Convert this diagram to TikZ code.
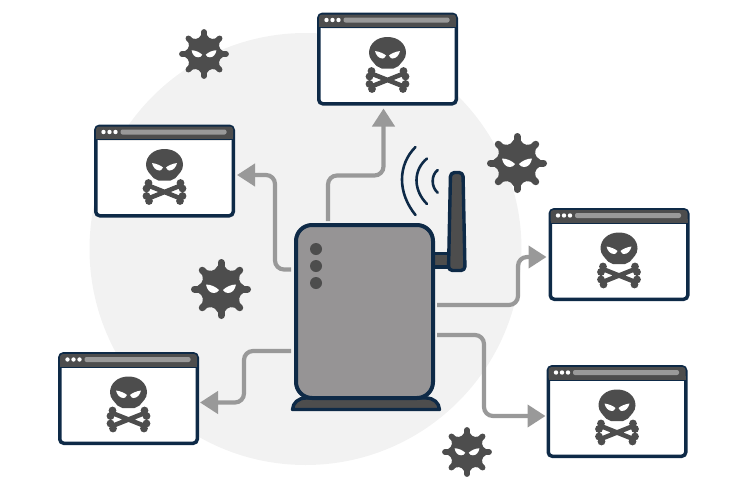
\documentclass[tikz,border=0pt]{standalone}
\usetikzlibrary{arrows.meta,calc}
\definecolor{navy}{HTML}{0E2A47}
\definecolor{dk}{HTML}{4D4D4D}
\definecolor{rg}{HTML}{969495}
\definecolor{lg}{HTML}{F2F2F2}
\definecolor{ag}{HTML}{999999}
\tikzset{
 winbox/.style={draw=navy,line width=3.5pt,fill=white,rounded corners=4pt,minimum width=137.5pt,minimum height=89.5pt,inner sep=0pt,outer sep=1.75pt},
 routerbox/.style={draw=navy,line width=4pt,fill=rg,rounded corners=16pt,minimum width=137pt,minimum height=173pt,inner sep=0pt,outer sep=2pt},
 conn/.style={draw=ag,line width=4.2pt,rounded corners=9pt,-{Triangle[length=18pt,width=22pt]}},
 bone/.style={draw=dk,line width=4.6pt,line cap=round},
 wave/.style={draw=navy,line width=2.6pt,line cap=round},
}
\newcommand{\badwin}[3]{% name, centre x, centre y
 \node[winbox] (#1) at (#2,#3) {};
 \begin{scope}[shift={(#2,#3)}]
  \fill[dk,rounded corners=3pt] (-68.5,-44.5) -- (68.5,-44.5) -- (68.5,-31) -- (-68.5,-31) -- cycle;
  \fill[dk] (-68.5,-36) rectangle (68.5,-31.5);
  \draw[navy,line width=1pt] (-68.5,-31.5) -- (68.5,-31.5);
  \fill[white] (-61,-39) circle (2.2pt) (-55,-39) circle (2.2pt) (-49,-39) circle (2.2pt);
  \fill[ag,rounded corners=2pt] (-44,-41.5) rectangle (62,-36.5);
  % skull
  \fill[dk] (0,-22) .. controls (11,-22) and (18.5,-15) .. (18.5,-6)
     .. controls (18.5,0) and (14,3) .. (11,7) -- (6,9.5) -- (-6,9.5) -- (-11,7)
     .. controls (-14,3) and (-18.5,0) .. (-18.5,-6)
     .. controls (-18.5,-15) and (-11,-22) .. (0,-22) -- cycle;
  \fill[white] (-12.5,-8) .. controls (-8,-7.5) and (-3,-5) .. (-1.5,-3.5) .. controls (-2.5,-1) and (-4,-0.5) .. (-5,-0.5)
     .. controls (-9,-0.5) and (-11.5,-4) .. (-12.5,-8) -- cycle;
  \fill[white] (12.5,-8) .. controls (8,-7.5) and (3,-5) .. (1.5,-3.5) .. controls (2.5,-1) and (4,-0.5) .. (5,-0.5)
     .. controls (9,-0.5) and (11.5,-4) .. (12.5,-8) -- cycle;
  % bones
  \draw[bone] (-15,15) -- (15,27) (15,15) -- (-15,27);
  \fill[dk] (-16,12) circle (3.9pt) (-18,17.5) circle (3.9pt) (16,12) circle (3.9pt) (18,17.5) circle (3.9pt)
            (-18,25) circle (3.9pt) (-15.5,30) circle (3.9pt) (18,25) circle (3.9pt) (15.5,30) circle (3.9pt);
 \end{scope}}
\newcommand{\virus}[4]{% name, x, y, scale (1 = radius 30)
 \begin{scope}[shift={(#2,#3)},scale=#4]
  \coordinate (#1) at (0,0);
  \fill[dk] (0,0) circle (20.5);
  \foreach \a in {0,45,...,315}{
   \draw[dk,line width=#4*7pt,line cap=round] (0,0) -- (\a:26.5);
   \fill[dk] ($(\a:18.5)+(\a+90:7)$) -- ($(\a:23.5)+(\a+90:3)$) -- ($(\a:23.5)+(\a-90:3)$) -- ($(\a:18.5)+(\a-90:7)$) -- cycle;
  }
  \fill[white] (-15,-4.5) .. controls (-10,-4.5) and (-5,-2) .. (-2,1) .. controls (-3,3) and (-5,4) .. (-7,4)
     .. controls (-11,4) and (-14,1) .. (-15,-4.5) -- cycle;
  \fill[white] (15,-4.5) .. controls (10,-4.5) and (5,-2) .. (2,1) .. controls (3,3) and (5,4) .. (7,4)
     .. controls (11,4) and (14,1) .. (15,-4.5) -- cycle;
 \end{scope}}
\begin{document}
\begin{tikzpicture}[x=1pt,y=-1pt]
\useasboundingbox (0,0) rectangle (750,490);
\fill[lg] (305.5,249) circle (216);
% antenna
\draw[navy,line width=3.4pt,fill=dk] (430,253.5) rectangle (449,267);
\draw[navy,line width=3.4pt,fill=dk,line join=round,rounded corners=4pt] (450.5,172.5) -- (463,172.5) -- (465,270.5) -- (448.5,270.5) -- cycle;
% waves
\draw[wave] (415.5,147) .. controls (397.5,165) and (397.5,193) .. (415.5,215);
\draw[wave] (427,158.5) .. controls (413,170) and (413,190) .. (427,204);
\draw[wave] (437.7,170) .. controls (431,175) and (431,187) .. (437.7,192.7);
% base
\draw[navy,line width=3.4pt,fill=dk,line join=round] (292.5,409.5) .. controls (293,403) and (298,398) .. (306,398) -- (426,398) .. controls (434,398) and (439,403) .. (439.5,409.5) -- cycle;
% router
\node[routerbox] (router) at (364.5,311.5) {};
\fill[dk] (316,249) circle (6) (316,266) circle (6) (316,283) circle (6);
% windows
\badwin{w1}{387.5}{59}
\badwin{w2}{164.5}{171}
\badwin{w3}{619}{254.5}
\badwin{w4}{617}{411.5}
\badwin{w5}{128.5}{398.5}
% viruses
\virus{v1}{204}{54}{0.83}
\virus{v2}{517}{163}{1}
\virus{v3}{221}{289}{1}
\virus{v4}{467}{452}{0.83}
% connectors
\draw[conn] ([xshift=-36.5pt,yshift=2pt]router.north) |- (355,175.5) -| ([xshift=-4pt,yshift=-3pt]w1.south);
\draw[conn] ([yshift=42pt,xshift=-3pt]router.west) -| (275,175) -- ([xshift=2pt,yshift=-4pt]w2.east);
\draw[conn] ([yshift=6.5pt,xshift=2pt]router.east) -| (518,257) -- ([xshift=-2pt,yshift=-2.5pt]w3.west);
\draw[conn] ([yshift=-23.5pt,xshift=2pt]router.east) -| (484,416) -- ([xshift=-1pt,yshift=-4.5pt]w4.west);
\draw[conn] ([yshift=-39.5pt,xshift=-3pt]router.west) -| (244,402.5) -- ([xshift=1pt,yshift=-4pt]w5.east);
\end{tikzpicture}
\end{document}
